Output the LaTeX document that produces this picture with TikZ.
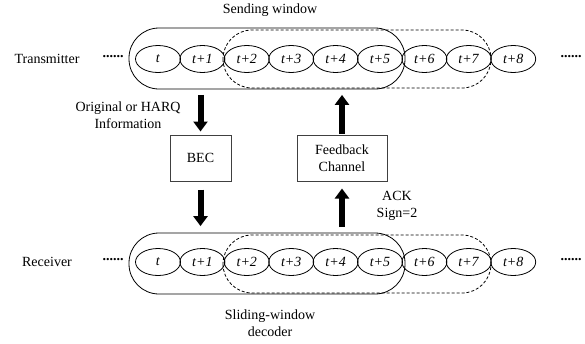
\documentclass[tikz,border=0pt]{standalone}
\usepackage{fontspec}
\setmainfont{Liberation Serif}
\usepackage{tikz}
\usetikzlibrary{shapes, arrows.meta, positioning, calc}
\tikzset{
    slot/.style={ellipse, draw, minimum width=45pt, minimum height=27pt, inner sep=0pt, line width=0.8pt},
    chan/.style={rectangle, draw=black!75, line width=1pt, minimum height=46pt, align=center},
    window/.style={rounded corners=30pt, line width=0.8pt},
    dwindow/.style={rounded corners=29pt, line width=0.8pt, dash pattern=on 3pt off 2pt},
    fatarrow/.style={-{Triangle[width=14pt, length=10pt]}, line width=6pt},
    dots/.style={font=\fontsize{14}{17}\selectfont\bfseries}
}

\begin{document}
\begin{tikzpicture}[x=1pt, y=-1pt, font=\fontsize{14}{17}\selectfont]
    \useasboundingbox (0,0) rectangle (585,343);

    % Transmitter row
    \node (tx) at (47,59) {Transmitter};
    \node[dots] (txl) at (113,57) {......};
    \foreach \lab [count=\k from 0] in {t,t+1,t+2,t+3,t+4,t+5,t+6,t+7,t+8}
        \node[slot] (s\k) at (158+44.4*\k, 59) {\textit{\lab}};
    \node[dots] (txr) at (571,57) {......};
    \draw[window] (129,28) rectangle (405,89);
    \draw[dwindow] (223,30) rectangle (491,88);
    \node (sendwin) at (270,10) {Sending window};

    % Receiver row
    \node (rx) at (47,262) {Receiver};
    \node[dots] (rxl) at (113,260) {......};
    \foreach \lab [count=\k from 0] in {t,t+1,t+2,t+3,t+4,t+5,t+6,t+7,t+8}
        \node[slot] (r\k) at (158+44.4*\k, 262) {\textit{\lab}};
    \node[dots] (rxr) at (571,260) {......};
    \draw[window] (129,233) rectangle (405,294);
    \draw[dwindow] (223,235) rectangle (491,293);
    \node[align=center] (decwin) at (270,323) {Sliding-window\\decoder};

    % Channels
    \node[chan, minimum width=61pt] (bec) at (200.5,158) {BEC};
    \node[chan, minimum width=90pt] (fb) at (342,158) {Feedback\\Channel};
    \node[align=center] (harq) at (128,115) {Original or HARQ\\Information};
    \node[align=center] (ack) at (397,206) {ACK\\Sign=2};

    % Arrows
    \draw[fatarrow, shorten <=22pt, shorten >=3pt] (bec.north |- s1.south) -- (bec.north);
    \draw[fatarrow, shorten <=8pt, shorten >=22pt] (bec.south) -- (bec.south |- r1.north);
    \draw[fatarrow, shorten <=21pt, shorten >=7pt] (fb.south |- r4.north) -- (fb.south);
    \draw[fatarrow, shorten <=1pt, shorten >=22pt] (fb.north) -- (fb.north |- s4.south);
\end{tikzpicture}
\end{document}
